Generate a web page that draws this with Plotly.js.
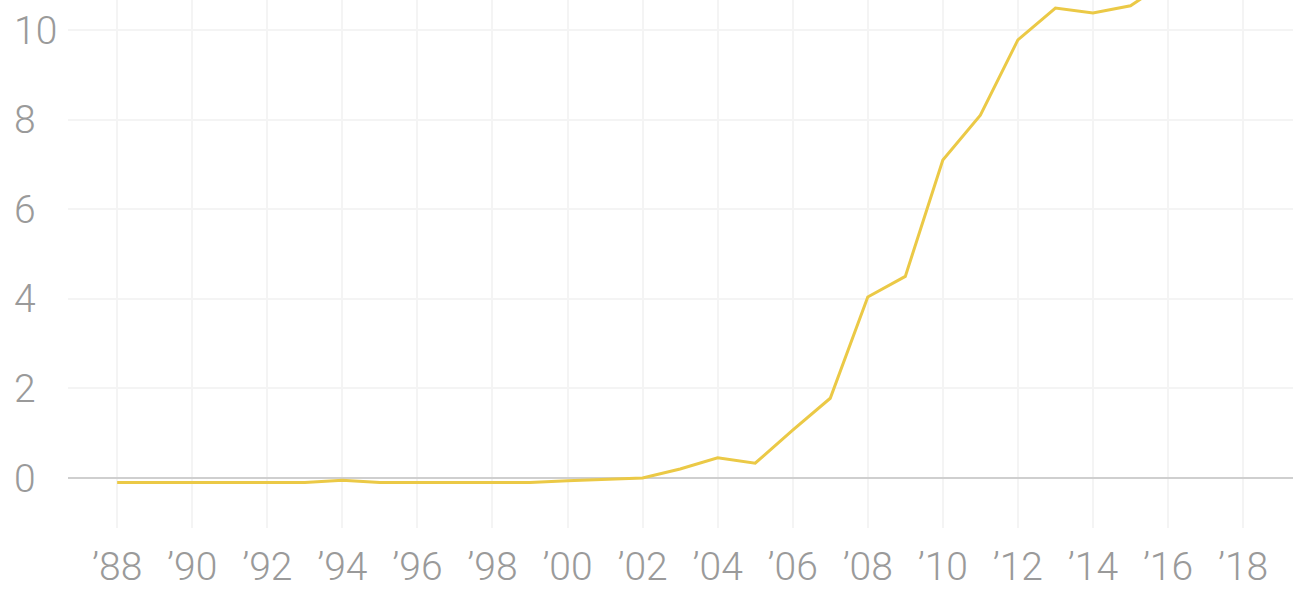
<!DOCTYPE html>
<html>
<head>
<meta charset="utf-8">
<script src="https://cdn.plot.ly/plotly-3.0.1.min.js"></script>
<style>html,body{margin:0;padding:0;background:#fff;}#chart{width:1293px;height:590px;}</style>
</head>
<body>
<div id="chart"></div>
<script>
const years = [1988,1989,1990,1991,1992,1993,1994,1995,1996,1997,1998,1999,2000,2001,2002,2003,2004,2005,2006,2007,2008,2009,2010,2011,2012,2013,2014,2015,2016,2017,2018];
const values = [-0.1,-0.1,-0.1,-0.11,-0.11,-0.1,-0.05,-0.1,-0.1,-0.1,-0.1,-0.1,-0.06,-0.03,0.0,0.2,0.45,0.33,1.07,1.78,4.04,4.5,7.1,8.1,9.78,10.49,10.38,10.54,11.1,11.6,12.0];
const tickYears = [1988,1990,1992,1994,1996,1998,2000,2002,2004,2006,2008,2010,2012,2014,2016,2018];
const tickLabels = ["’88","’90","’92","’94","’96","’98","’00","’02","’04","’06","’08","’10","’12","’14","’16","’18"];
const yTicks = [0,2,4,6,8,10];
const yLabels = ["0","2","4","6","8","10"];

const xFont = {family: "Roboto, 'Noto Sans', sans-serif", size: 39, color: "#9a9a9a", weight: 300};
const yFont = {family: "Roboto, 'Noto Sans', sans-serif", size: 39, color: "#9a9a9a", weight: 300};

Plotly.newPlot("chart", [{
  x: years, y: values, type: "scatter", mode: "lines",
  line: {color: "#EBC946", width: 3}, hoverinfo: "skip"
}], {
  width: 1293, height: 590,
  margin: {l: 0, r: 0, t: 0, b: 62},
  paper_bgcolor: "#fff", plot_bgcolor: "#fff",
  showlegend: false,
  xaxis: {
    domain: [68/1293, 1],
    range: [1986.69, 2019.33],
    tickmode: "array", tickvals: tickYears, ticktext: tickLabels,
    showgrid: true, gridcolor: "#f4f4f4", gridwidth: 2,
    zeroline: false, showline: false, ticks: "",
    tickfont: xFont, ticklabelstandoff: 12
  },
  yaxis: {
    anchor: "free", position: 0,
    range: [-1.116, 10.67],
    tickmode: "array", tickvals: yTicks, ticktext: yLabels,
    ticklabelposition: "inside", ticklabelstandoff: 10,
    showgrid: true, gridcolor: "#f4f4f4", gridwidth: 2,
    zeroline: true, zerolinecolor: "#cfcfcf", zerolinewidth: 2,
    showline: false, ticks: "",
    tickfont: yFont
  }
}, {displayModeBar: false, staticPlot: true});
</script>
</body>
</html>
